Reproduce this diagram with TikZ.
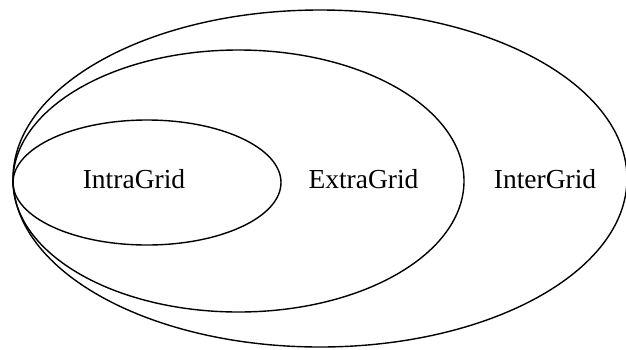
\documentclass[tikz,border=0pt]{standalone}
\usepackage{fontspec}
\setmainfont{Liberation Serif}
\usetikzlibrary{shapes.geometric}

\begin{document}
\begin{tikzpicture}[x=1pt,y=-1pt,
    grid/.style={draw=black, ellipse, line width=1.4pt, inner sep=0pt},
    lbl/.style={font=\fontsize{27.5}{30}\selectfont, inner sep=0pt}]
  \useasboundingbox (0,0) rectangle (626,349);
  % ---- nested grids ----
  \node[grid, minimum width=614pt, minimum height=337pt] (inter) at (320,178.5) {};
  \node[grid, minimum width=451pt, minimum height=262pt] (extra) at (238.5,181) {};
  \node[grid, minimum width=268pt, minimum height=125pt] (intra) at (147,182.5) {};
  % ---- labels ----
  \node[lbl] (intralbl) at (134,179) {IntraGrid};
  \node[lbl] (extralbl) at (363.5,179) {ExtraGrid};
  \node[lbl] (interlbl) at (545,179) {InterGrid};
\end{tikzpicture}
\end{document}
